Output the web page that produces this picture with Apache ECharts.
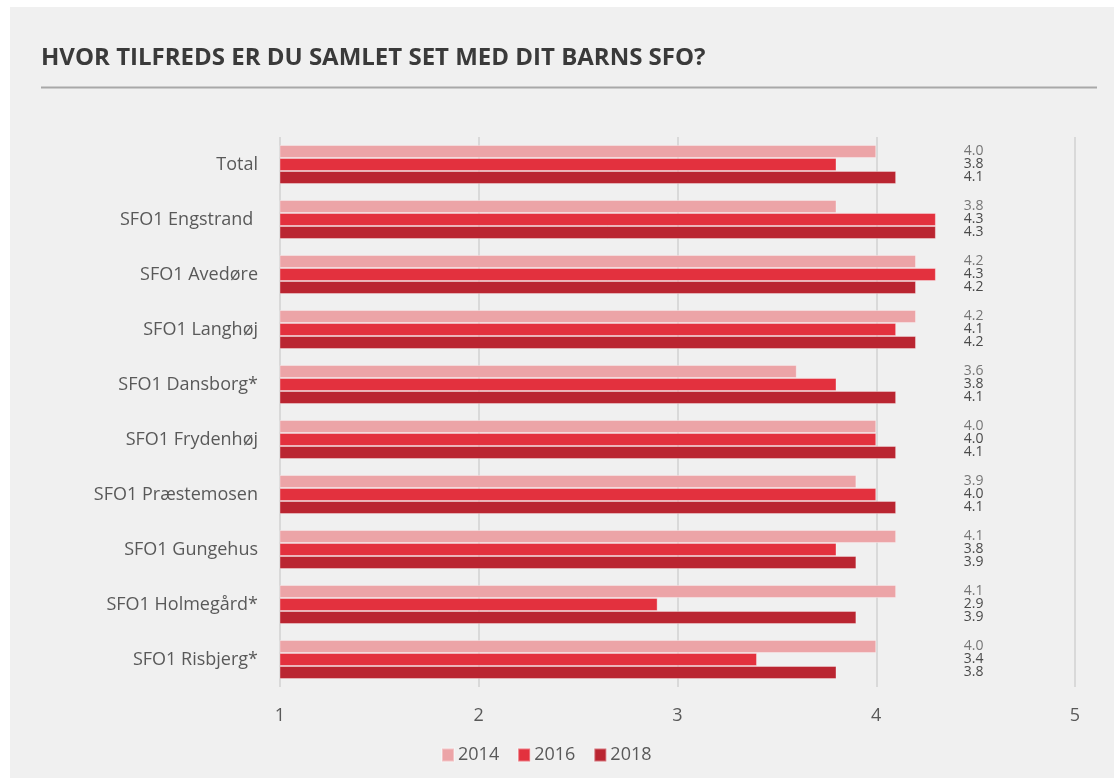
<!DOCTYPE html>
<html>
<head>
<meta charset="utf-8">
<script src="https://cdn.jsdelivr.net/npm/echarts@6/dist/echarts.min.js"></script>
<style>
html,body{margin:0;padding:0;background:#ffffff;}
#bg{position:absolute;left:10px;top:7px;width:1104px;height:771px;background:#f0f0f0;}
#chart{position:absolute;left:0;top:0;width:1114px;height:778px;}
</style>
</head>
<body>
<div id="bg"></div>
<div id="chart"></div>
<script>
const title = 'HVOR TILFREDS ER DU SAMLET SET MED DIT BARNS SFO?';
const categories = ['Total','SFO1 Engstrand ','SFO1 Avedøre','SFO1 Langhøj','SFO1 Dansborg*','SFO1 Frydenhøj','SFO1 Præstemosen','SFO1 Gungehus','SFO1 Holmegård*','SFO1 Risbjerg*'];
const seriesNames = ['2014','2016','2018'];
const values2014 = [4.0,3.8,4.2,4.2,3.6,4.0,3.9,4.1,4.1,4.0];
const values2016 = [3.8,4.3,4.3,4.1,3.8,4.0,4.0,3.8,2.9,3.4];
const values2018 = [4.1,4.3,4.2,4.2,4.1,4.1,4.1,3.9,3.9,3.8];
const xTicks = [1,2,3,4,5];

const colors = ['#eca4a7','#e3313e','#ba2531'];
const labelColors = ['#767676','#4a4a4a','#4a4a4a'];
const FONT = "'Open Sans', 'DejaVu Sans', sans-serif";
const LABEL_X = 4.44;

const allValues = [values2014, values2016, values2018];
const labelData = categories.map((c, i) => [i, values2014[i], values2016[i], values2018[i]]);

const chart = echarts.init(document.getElementById('chart'), null, {renderer:'canvas'});
const option = {
  backgroundColor: 'transparent',
  animation: false,
  color: colors,
  title: {
    text: title,
    left: 36, top: 41,
    textStyle: {fontFamily: "'Open Sans', sans-serif", fontWeight: 'bold', fontSize: 24, color: '#3a3a3a'}
  },
  graphic: [{
    type: 'line', shape: {x1: 41, y1: 87.5, x2: 1097, y2: 87.5},
    style: {stroke: '#a8a8a8', lineWidth: 2}, silent: true
  }],
  legend: {
    data: seriesNames,
    left: 436, top: 741,
    itemWidth: 12, itemHeight: 13, itemGap: 18,
    icon: 'rect',
    textStyle: {fontFamily: FONT, fontSize: 18, color: '#595959', padding: [0,0,0,-1]}
  },
  grid: {left: 280, right: 39, top: 137, height: 550, containLabel: false},
  xAxis: {
    type: 'value', min: xTicks[0], max: xTicks[xTicks.length-1], interval: 1,
    axisLine: {show: false}, axisTick: {show: false},
    splitLine: {show: true, lineStyle: {color: '#d9d9d9', width: 2}},
    axisLabel: {fontFamily: FONT, fontSize: 18, color: '#595959', margin: 20}
  },
  yAxis: {
    type: 'category', data: categories, inverse: true,
    axisLine: {show: false}, axisTick: {show: false},
    axisLabel: {fontFamily: FONT, fontSize: 18, color: '#595959', margin: 22}
  },
  series: seriesNames.map((n, k) => ({
    name: n, type: 'bar', data: allValues[k],
    barGap: '0%', barCategoryGap: '29%',
    itemStyle: {color: colors[k], borderColor: 'rgba(255,255,255,0.35)', borderWidth: 1}
  })).concat([{
    type: 'custom',
    data: labelData,
    encode: {x: -1, y: 0},
    silent: true,
    renderItem: function (params, api) {
      const idx = api.value(0);
      const p = api.coord([LABEL_X, idx]);
      const children = [];
      const offs = [-13, 0, 13];
      for (let k = 0; k < 3; k++) {
        children.push({
          type: 'text',
          style: {
            x: p[0], y: p[1] + offs[k],
            text: api.value(k + 1).toFixed(1),
            fill: labelColors[k],
            font: '14px ' + FONT,
            textAlign: 'left', textVerticalAlign: 'middle'
          }
        });
      }
      return {type: 'group', children: children};
    }
  }])
};
chart.setOption(option);
</script>
</body>
</html>
